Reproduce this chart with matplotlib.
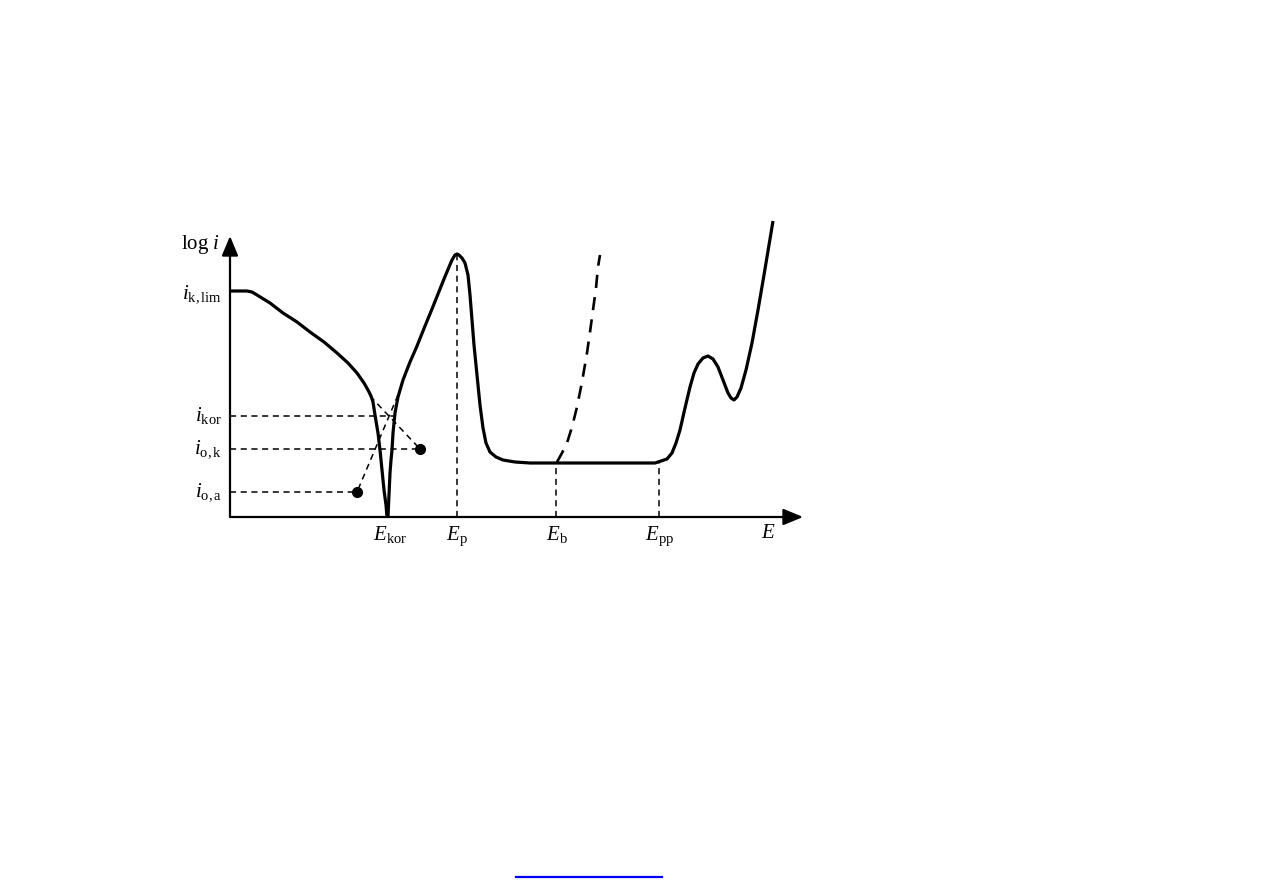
import numpy as np
import matplotlib.pyplot as plt
from matplotlib.lines import Line2D

plt.rcParams["font.family"] = "Liberation Serif"
plt.rcParams["mathtext.fontset"] = "custom"
plt.rcParams["mathtext.rm"] = "Liberation Serif"
plt.rcParams["mathtext.it"] = "Liberation Serif:italic"

# ---------------- schematic polarisation curve (E, log i), arbitrary units ----------------
cath_E = [0, 17, 22, 27, 40, 53, 67, 80, 94, 107, 118, 127, 134, 138, 141, 143, 145, 148, 150,
          152, 154, 156, 157]
cath_L = [226, 226, 225, 222, 214, 204, 195, 185, 175, 164, 154, 144, 134, 127, 121, 115, 102,
          84, 67, 47, 27, 12, 0]

anod_E = [158, 159, 160, 161, 162, 163, 165, 168, 173, 180, 187, 195, 202, 208, 214, 219, 222,
          225, 227, 229, 232, 235, 238, 240, 242, 244, 247, 250, 253, 256, 260, 266, 273, 285,
          300, 330, 390, 425, 431, 437, 442, 446, 450, 455, 460, 464, 468, 473, 478, 483, 488,
          493, 498, 501, 504, 507, 511, 516, 522, 528, 534, 539, 543]
anod_L = [0, 22, 44, 57, 67, 84, 104, 120, 137, 155, 171, 191, 208, 223, 238, 250, 257,
          262, 263, 262, 259, 254, 242, 222, 197, 172, 142, 112, 89, 74, 65, 60, 57, 55,
          54, 54, 54, 54, 56, 58, 64, 74, 87, 109, 130, 144, 153, 159, 161, 158, 150,
          137, 124, 119, 117, 120, 129, 147, 174, 207, 242, 272, 296]

# pitting branch above E_b
pit_E = [327, 332, 337, 342, 347, 352, 357, 360, 363, 366, 368, 370]
pit_L = [55, 64, 74, 90, 110, 135, 164, 185, 207, 229, 250, 262]

# characteristic potentials and currents
E_kor, E_p, E_b, E_pp = 157, 227, 326, 429
L_p, L_pass = 263, 55
L_klim, L_kor, L_ok, L_oa = 226, 101, 68, 25

# Tafel extrapolations (start on curve -> exchange-current dot)
taf_k_E, taf_k_L = [140, 190], [121, 68]
taf_a_E, taf_a_L = [168, 127], [122, 25]
hline_end = {"kor": 163, "ok": 190, "oa": 127}

W, H = 1263, 893
fig = plt.figure(figsize=(W / 100, H / 100), dpi=100)
ax = fig.add_axes([230 / W, (H - 517) / H, 572 / W, 280 / H])
ax.set_xlim(0, 572)
ax.set_ylim(0, 280)
ax.axis("off")

lw_main = 2.3
dash = dict(color="black", lw=1.1, dashes=(4, 3), clip_on=False)

ax.plot(cath_E, cath_L, color="black", lw=lw_main, clip_on=False,
        solid_joinstyle="round", solid_capstyle="butt")
ax.plot(anod_E, anod_L, color="black", lw=lw_main, clip_on=False,
        solid_joinstyle="round", solid_capstyle="butt")
ax.plot(pit_E, pit_L, color="black", lw=1.9, dashes=(5, 3.5), clip_on=False)

# vertical guides
ax.plot([E_p, E_p], [0, L_p], **dash)
ax.plot([E_b, E_b], [0, L_pass], **dash)
ax.plot([E_pp, E_pp], [0, L_pass], **dash)

# horizontal guides
ax.plot([0, hline_end["kor"]], [L_kor, L_kor], **dash)
ax.plot([0, hline_end["ok"]], [L_ok, L_ok], **dash)
ax.plot([0, hline_end["oa"]], [L_oa, L_oa], **dash)

# Tafel lines and dots
ax.plot(taf_k_E, taf_k_L, **dash)
ax.plot(taf_a_E, taf_a_L, **dash)
ax.plot([taf_k_E[-1], taf_a_E[-1]], [taf_k_L[-1], taf_a_L[-1]], "o", color="black",
        ms=7, clip_on=False)

# axes with arrows
arrow = dict(arrowstyle="-|>,head_length=1.2,head_width=0.5", color="black", lw=1.6,
             shrinkA=0, shrinkB=0)
ax.annotate("", xy=(0, 281), xytext=(0, 0), arrowprops=arrow, annotation_clip=False)
ax.annotate("", xy=(573, 0), xytext=(0, 0), arrowprops=arrow, annotation_clip=False)

fs = 15
ax.text(-10, 272, r"log $i$", fontsize=fs, ha="right", va="center")
ytl = [(L_klim - 3, r"$i_{\mathrm{k,lim}}$"), (L_kor, r"$i_{\mathrm{kor}}$"),
       (L_ok, r"$i_{\mathrm{o,k}}$"), (L_oa, r"$i_{\mathrm{o,a}}$")]
for y, s in ytl:
    ax.text(-8, y, s, fontsize=fs, ha="right", va="center")

xtl = [(E_kor + 3, r"$E_{\mathrm{kor}}$"), (E_p, r"$E_{\mathrm{p}}$"),
       (E_b + 1, r"$E_{\mathrm{b}}$"), (E_pp + 1, r"$E_{\mathrm{pp}}$"), (538, r"$E$")]
for x, s in xtl:
    ax.text(x, -7, s, fontsize=fs, ha="center", va="top")

# hyperlink underline at the bottom of the page
fig.add_artist(Line2D([516 / W, 662 / W], [(H - 877) / H, (H - 877) / H],
                      color="#0000ff", lw=1.6, transform=fig.transFigure))

fig.savefig("out.png", dpi=100)
